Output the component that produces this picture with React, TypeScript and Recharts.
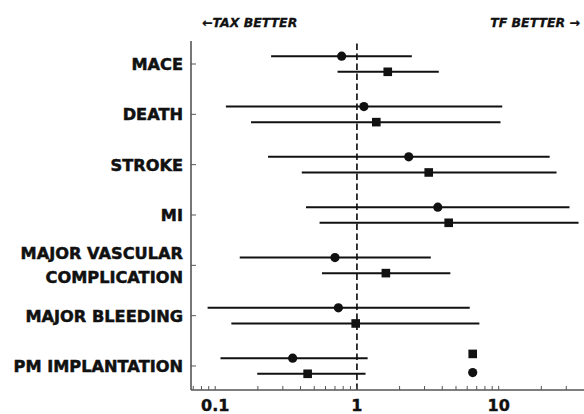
import React from 'react';
import { ComposedChart, Scatter, XAxis, YAxis, ErrorBar, ReferenceLine } from 'recharts';

const outcomes = ['MACE', 'DEATH', 'STROKE', 'MI', 'MAJOR VASCULAR\nCOMPLICATION', 'MAJOR BLEEDING', 'PM IMPLANTATION'];

const circleEst = [0.78, 1.12, 2.32, 3.72, 0.7, 0.74, 0.352];
const circleLow = [0.248, 0.119, 0.236, 0.437, 0.149, 0.0884, 0.109];
const circleHigh = [2.44, 10.6, 22.9, 31.6, 3.32, 6.25, 1.19];

const squareEst = [1.65, 1.37, 3.21, 4.44, 1.6, 0.98, 0.449];
const squareLow = [0.73, 0.179, 0.408, 0.545, 0.567, 0.13, 0.198];
const squareHigh = [3.78, 10.3, 25.6, 36.6, 4.56, 7.31, 1.15];

// stray markers next to PM IMPLANTATION (no interval)
const extraSquare = [{ x: 6.56, y: 6 - 0.24 }];
const extraCircle = [{ x: 6.56, y: 6 + 0.13 }];

const xTicks = [0.07, 0.08, 0.09, 0.1, 0.2, 0.3, 0.4, 0.5, 0.6, 0.7, 0.8, 0.9, 1, 2, 3, 4, 5, 6, 7, 8, 9, 10, 20, 30];
const xLabels = [0.1, 1, 10];
const xDomain = [0.0675, 40];
const yDomain = [-0.457, 6.477];

const OFFSET = 0.155;
const circleData = circleEst.map((v, i) => ({ x: v, y: i - OFFSET, err: [v - circleLow[i], circleHigh[i] - v] }));
const squareData = squareEst.map((v, i) => ({ x: v, y: i + OFFSET, err: [v - squareLow[i], squareHigh[i] - v] }));

const FONT = '"DejaVu Sans", sans-serif';

const CircleShape = (p: any) => <circle cx={p.cx} cy={p.cy} r={4.6} fill="#111" />;
const SquareShape = (p: any) => <rect x={p.cx - 4.3} y={p.cy - 4.3} width={8.6} height={8.6} fill="#111" />;

const YTick = (p: any) => {
  const label = outcomes[Math.round(p.payload.value)] || '';
  const lines = label.split('\n');
  const lh = 24;
  const start = -((lines.length - 1) * lh) / 2;
  return (
    <text x={p.x} y={p.y} textAnchor="end" fontFamily={FONT} fontWeight="bold" fontSize={16.2} fill="#111" stroke="#111" strokeWidth={0.5}>
      {lines.map((l: string, i: number) => (
        <tspan key={i} x={p.x} dy={i === 0 ? start + 6 : lh}>{l}</tspan>
      ))}
    </text>
  );
};

const XTick = (p: any) => {
  const v = p.payload.value;
  if (!xLabels.some((t) => Math.abs(t - v) < 1e-9)) return null;
  return (
    <text x={p.x} y={p.y} dy={11} textAnchor="middle" fontFamily={FONT} fontWeight="bold" fontSize={16} fill="#111" stroke="#111" strokeWidth={0.4}>
      {String(v)}
    </text>
  );
};

const topStyle: React.CSSProperties = {
  position: 'absolute', top: 15, fontFamily: FONT, fontWeight: 'bold', fontStyle: 'italic',
  fontSize: 12.5, lineHeight: '16px', color: '#111', whiteSpace: 'nowrap', WebkitTextStroke: '0.3px #111',
};

export default function App() {
  return (
    <div style={{ position: 'absolute', left: 0, top: 0, width: 584, height: 414, background: '#fff' }}>
      <span style={{ ...topStyle, left: 202 }}>←TAX BETTER</span>
      <span style={{ ...topStyle, right: 4 }}>TF BETTER →</span>
      <ComposedChart width={584} height={414} margin={{ top: 41, right: 0, bottom: 0, left: 0 }}>
        <XAxis
          type="number"
          dataKey="x"
          scale="log"
          domain={xDomain}
          allowDataOverflow
          ticks={xTicks}
          interval={0}
          height={24}
          tickSize={-4}
          tickMargin={14}
          tick={<XTick />}
          axisLine={{ stroke: '#555', strokeWidth: 1.6 }}
          tickLine={{ stroke: '#555', strokeWidth: 1 }}
        />
        <YAxis
          type="number"
          dataKey="y"
          domain={yDomain}
          allowDataOverflow
          reversed
          ticks={[0, 1, 2, 3, 4, 5, 6]}
          interval={0}
          width={191}
          tickSize={-5}
          tickMargin={13}
          tick={<YTick />}
          axisLine={{ stroke: '#555', strokeWidth: 1.6 }}
          tickLine={{ stroke: '#555', strokeWidth: 1 }}
        />
        <ReferenceLine x={1} stroke="#222" strokeWidth={1.8} strokeDasharray="6.5 3.5" />
        <Scatter data={circleData} shape={CircleShape} isAnimationActive={false}>
          <ErrorBar dataKey="err" direction="x" width={0} stroke="#111" strokeWidth={2} />
        </Scatter>
        <Scatter data={squareData} shape={SquareShape} isAnimationActive={false}>
          <ErrorBar dataKey="err" direction="x" width={0} stroke="#111" strokeWidth={2} />
        </Scatter>
        <Scatter data={extraSquare} shape={SquareShape} isAnimationActive={false} />
        <Scatter data={extraCircle} shape={CircleShape} isAnimationActive={false} />
      </ComposedChart>
    </div>
  );
}
